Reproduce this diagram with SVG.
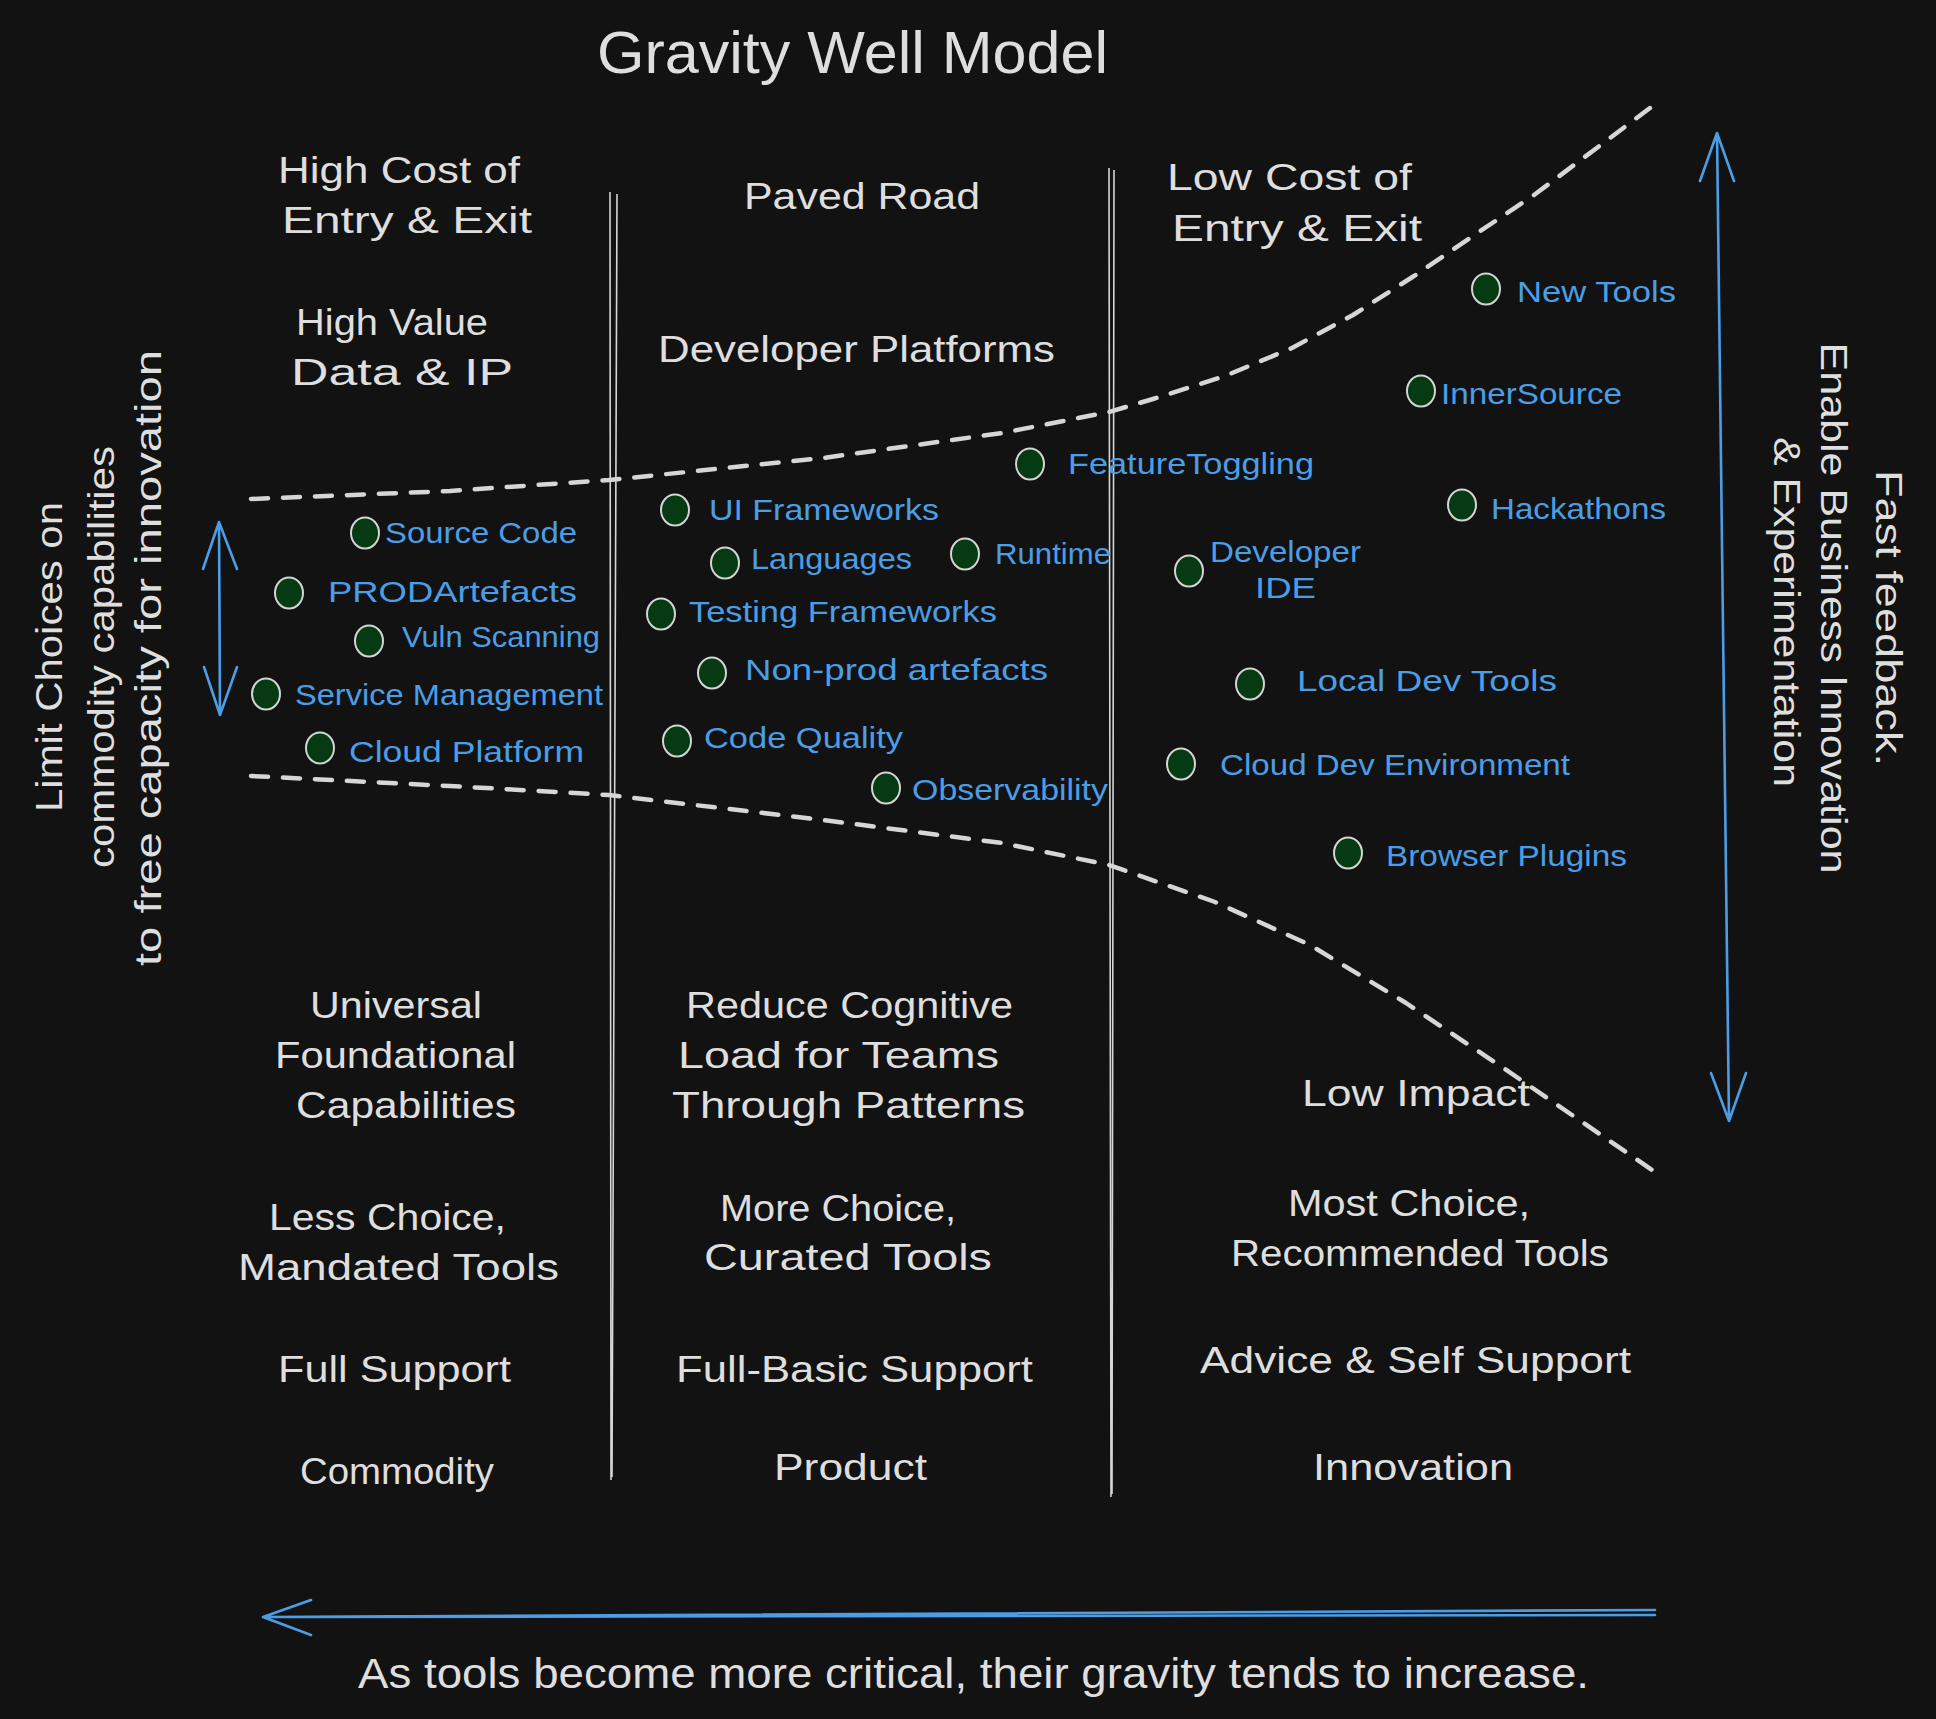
<svg xmlns="http://www.w3.org/2000/svg" width="1936" height="1719" viewBox="0 0 1936 1719">
<style>
.bg{fill:#121212}
.w{fill:#dedede;font-family:"Liberation Sans",Arial,sans-serif;font-size:37px}
.t{fill:#dedede;font-family:"Liberation Sans",Arial,sans-serif;font-size:60px}
.c{fill:#dedede;font-family:"Liberation Sans",Arial,sans-serif;font-size:42px}
.b{fill:#4b9ee6;font-family:"Liberation Sans",Arial,sans-serif;font-size:29px}
.m{text-anchor:middle}
.dot{fill:#063a12;stroke:#d4d4d4;stroke-width:2}
.dash{fill:none;stroke:#d6d6d6;stroke-width:4.5;stroke-dasharray:17 15;stroke-linecap:round;stroke-linejoin:round}
.sep{fill:none;stroke:#d6d6d6;stroke-width:1.6}
.arr{fill:none;stroke:#4b9ee6;stroke-width:2.6;stroke-linecap:round;stroke-linejoin:round}
</style>
<rect class="bg" x="0" y="0" width="1936" height="1719"/>

<g id="connectors">
  <path class="dash" d="M251,499 L450,491 L609,480 L823,458 L1002,433 L1109,412 L1153,399 L1225,376 L1292,348 L1353,315 L1414,276 L1473,236 L1534,195 L1654,105"/>
  <path class="dash" d="M251,776 L450,786 L609,795 L823,820 L1002,843 L1109,865 L1215,902 L1310,945 L1406,1003 L1502,1067 L1655,1172"/>
  <path class="sep" d="M610,192 L611,1480 M617,194 L612,1477"/>
  <path class="sep" d="M1109,168 L1111,1497 M1114,170 L1112,1494"/>
  <path class="arr" d="M219,522 L220,715 M203,569 L219,522 L237,569 M204,667 L220,715 L237,667"/>
  <path class="arr" d="M1717,133 L1729,1121 M1700,181 L1717,133 L1734,181 M1711,1073 L1729,1121 L1746,1073"/>
  <path class="arr" d="M1655,1610 L263,1617 M1655,1615 L300,1617 M311,1600 L263,1617 L311,1635"/>
</g>

<g id="title"><text class="t" x="597" y="73" textLength="511" lengthAdjust="spacingAndGlyphs">Gravity Well Model</text></g>

<g id="col-commodity-header">
  <text class="w" x="278" y="183" textLength="242" lengthAdjust="spacingAndGlyphs">High Cost of</text>
  <text class="w" x="282" y="233" textLength="250" lengthAdjust="spacingAndGlyphs">Entry &amp; Exit</text>
</g>
<g id="col-product-header"><text class="w" x="744" y="209" textLength="236" lengthAdjust="spacingAndGlyphs">Paved Road</text></g>
<g id="col-innovation-header">
  <text class="w" x="1167" y="190" textLength="245" lengthAdjust="spacingAndGlyphs">Low Cost of</text>
  <text class="w" x="1172" y="241" textLength="250" lengthAdjust="spacingAndGlyphs">Entry &amp; Exit</text>
</g>
<g id="high-value">
  <text class="w" x="296" y="335" textLength="192" lengthAdjust="spacingAndGlyphs">High Value</text>
  <text class="w" x="291" y="385" textLength="222" lengthAdjust="spacingAndGlyphs">Data &amp; IP</text>
</g>
<g id="developer-platforms"><text class="w" x="658" y="362" textLength="397" lengthAdjust="spacingAndGlyphs">Developer Platforms</text></g>

<g id="universal">
  <text class="w" x="310" y="1018" textLength="172" lengthAdjust="spacingAndGlyphs">Universal</text>
  <text class="w" x="275" y="1068" textLength="241" lengthAdjust="spacingAndGlyphs">Foundational</text>
  <text class="w" x="296" y="1118" textLength="220" lengthAdjust="spacingAndGlyphs">Capabilities</text>
</g>
<g id="reduce-cognitive">
  <text class="w" x="686" y="1018" textLength="327" lengthAdjust="spacingAndGlyphs">Reduce Cognitive</text>
  <text class="w" x="678" y="1068" textLength="321" lengthAdjust="spacingAndGlyphs">Load for Teams</text>
  <text class="w" x="672" y="1118" textLength="353" lengthAdjust="spacingAndGlyphs">Through Patterns</text>
</g>
<g id="low-impact"><text class="w" x="1302" y="1106" textLength="228" lengthAdjust="spacingAndGlyphs">Low Impact</text></g>
<g id="less-choice">
  <text class="w" x="269" y="1230" textLength="237" lengthAdjust="spacingAndGlyphs">Less Choice,</text>
  <text class="w" x="238" y="1280" textLength="321" lengthAdjust="spacingAndGlyphs">Mandated Tools</text>
</g>
<g id="more-choice">
  <text class="w" x="720" y="1221" textLength="236" lengthAdjust="spacingAndGlyphs">More Choice,</text>
  <text class="w" x="704" y="1270" textLength="288" lengthAdjust="spacingAndGlyphs">Curated Tools</text>
</g>
<g id="most-choice">
  <text class="w" x="1288" y="1216" textLength="242" lengthAdjust="spacingAndGlyphs">Most Choice,</text>
  <text class="w" x="1231" y="1266" textLength="378" lengthAdjust="spacingAndGlyphs">Recommended Tools</text>
</g>
<g id="full-support"><text class="w" x="278" y="1382" textLength="233" lengthAdjust="spacingAndGlyphs">Full Support</text></g>
<g id="full-basic-support"><text class="w" x="676" y="1382" textLength="357" lengthAdjust="spacingAndGlyphs">Full-Basic Support</text></g>
<g id="advice-support"><text class="w" x="1200" y="1373" textLength="431" lengthAdjust="spacingAndGlyphs">Advice &amp; Self Support</text></g>
<g id="commodity"><text class="w" x="300" y="1484" textLength="194" lengthAdjust="spacingAndGlyphs">Commodity</text></g>
<g id="product"><text class="w" x="774" y="1480" textLength="153" lengthAdjust="spacingAndGlyphs">Product</text></g>
<g id="innovation"><text class="w" x="1313" y="1480" textLength="200" lengthAdjust="spacingAndGlyphs">Innovation</text></g>

<g id="left-note">
  <text class="w m" transform="translate(62,657) rotate(-90)" textLength="310" lengthAdjust="spacingAndGlyphs">Limit Choices on</text>
  <text class="w m" transform="translate(114,657) rotate(-90)" textLength="422" lengthAdjust="spacingAndGlyphs">commodity capabilities</text>
  <text class="w m" transform="translate(161,658) rotate(-90)" textLength="616" lengthAdjust="spacingAndGlyphs">to free capacity for innovation</text>
</g>
<g id="right-note">
  <text class="w m" transform="translate(1876,618) rotate(90)" textLength="296" lengthAdjust="spacingAndGlyphs">Fast feedback.</text>
  <text class="w m" transform="translate(1821,608) rotate(90)" textLength="531" lengthAdjust="spacingAndGlyphs">Enable Business Innovation</text>
  <text class="w m" transform="translate(1774,612) rotate(90)" textLength="350" lengthAdjust="spacingAndGlyphs">&amp; Experimentation</text>
</g>
<g id="caption"><text class="c" x="358" y="1688" textLength="1231" lengthAdjust="spacingAndGlyphs">As tools become more critical, their gravity tends to increase.</text></g>

<g id="source-code"><ellipse class="dot" cx="365" cy="533" rx="14" ry="15.5"/><text class="b" x="385" y="543" textLength="192" lengthAdjust="spacingAndGlyphs">Source Code</text></g>
<g id="prod-artefacts"><ellipse class="dot" cx="289" cy="593" rx="14" ry="15.5"/><text class="b" x="328" y="602" textLength="249" lengthAdjust="spacingAndGlyphs">PRODArtefacts</text></g>
<g id="vuln-scanning"><ellipse class="dot" cx="369" cy="641" rx="14" ry="15.5"/><text class="b" x="402" y="647" textLength="198" lengthAdjust="spacingAndGlyphs">Vuln Scanning</text></g>
<g id="service-management"><ellipse class="dot" cx="266" cy="694" rx="14" ry="15.5"/><text class="b" x="295" y="705" textLength="308" lengthAdjust="spacingAndGlyphs">Service Management</text></g>
<g id="cloud-platform"><ellipse class="dot" cx="320" cy="748" rx="14" ry="15.5"/><text class="b" x="349" y="762" textLength="235" lengthAdjust="spacingAndGlyphs">Cloud Platform</text></g>
<g id="ui-frameworks"><ellipse class="dot" cx="675" cy="510" rx="14" ry="15.5"/><text class="b" x="709" y="520" textLength="230" lengthAdjust="spacingAndGlyphs">UI Frameworks</text></g>
<g id="languages"><ellipse class="dot" cx="725" cy="563" rx="14" ry="15.5"/><text class="b" x="751" y="569" textLength="161" lengthAdjust="spacingAndGlyphs">Languages</text></g>
<g id="runtime"><ellipse class="dot" cx="965" cy="554" rx="14" ry="15.5"/><text class="b" x="995" y="564" textLength="116" lengthAdjust="spacingAndGlyphs">Runtime</text></g>
<g id="testing-frameworks"><ellipse class="dot" cx="661" cy="614" rx="14" ry="15.5"/><text class="b" x="689" y="622" textLength="308" lengthAdjust="spacingAndGlyphs">Testing Frameworks</text></g>
<g id="non-prod-artefacts"><ellipse class="dot" cx="712" cy="673" rx="14" ry="15.5"/><text class="b" x="745" y="680" textLength="303" lengthAdjust="spacingAndGlyphs">Non-prod artefacts</text></g>
<g id="code-quality"><ellipse class="dot" cx="677" cy="741" rx="14" ry="15.5"/><text class="b" x="704" y="748" textLength="199" lengthAdjust="spacingAndGlyphs">Code Quality</text></g>
<g id="observability"><ellipse class="dot" cx="886" cy="788" rx="14" ry="15.5"/><text class="b" x="912" y="800" textLength="196" lengthAdjust="spacingAndGlyphs">Observability</text></g>
<g id="feature-toggling"><ellipse class="dot" cx="1030" cy="464" rx="14" ry="15.5"/><text class="b" x="1068" y="474" textLength="246" lengthAdjust="spacingAndGlyphs">FeatureToggling</text></g>
<g id="new-tools"><ellipse class="dot" cx="1486" cy="289" rx="14" ry="15.5"/><text class="b" x="1517" y="302" textLength="159" lengthAdjust="spacingAndGlyphs">New Tools</text></g>
<g id="innersource"><ellipse class="dot" cx="1421" cy="391" rx="14" ry="15.5"/><text class="b" x="1441" y="404" textLength="181" lengthAdjust="spacingAndGlyphs">InnerSource</text></g>
<g id="hackathons"><ellipse class="dot" cx="1462" cy="505" rx="14" ry="15.5"/><text class="b" x="1491" y="519" textLength="175" lengthAdjust="spacingAndGlyphs">Hackathons</text></g>
<g id="developer-ide"><ellipse class="dot" cx="1189" cy="571" rx="14" ry="15.5"/><text class="b" x="1210" y="562" textLength="151" lengthAdjust="spacingAndGlyphs">Developer</text><text class="b" x="1255" y="598" textLength="61" lengthAdjust="spacingAndGlyphs">IDE</text></g>
<g id="local-dev-tools"><ellipse class="dot" cx="1250" cy="684" rx="14" ry="15.5"/><text class="b" x="1297" y="691" textLength="260" lengthAdjust="spacingAndGlyphs">Local Dev Tools</text></g>
<g id="cloud-dev-environment"><ellipse class="dot" cx="1181" cy="764" rx="14" ry="15.5"/><text class="b" x="1220" y="775" textLength="350" lengthAdjust="spacingAndGlyphs">Cloud Dev Environment</text></g>
<g id="browser-plugins"><ellipse class="dot" cx="1348" cy="853" rx="14" ry="15.5"/><text class="b" x="1386" y="866" textLength="241" lengthAdjust="spacingAndGlyphs">Browser Plugins</text></g>
</svg>
